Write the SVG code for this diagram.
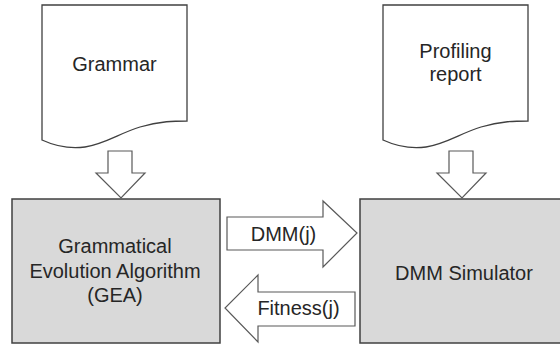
<svg xmlns="http://www.w3.org/2000/svg" width="560" height="345" viewBox="0 0 560 345">
  <defs>
    <style>
      .doc { fill: #ffffff; stroke: #404040; stroke-width: 1.3; }
      .box { fill: #d9d9d9; stroke: #404040; stroke-width: 1.5; }
      .blk { fill: #ffffff; stroke: #595959; stroke-width: 1.2; stroke-linejoin: miter; }
      .t { font-family: "Liberation Sans", Arial, sans-serif; font-size: 20px; fill: #262626; text-anchor: middle; }
    </style>
    <path id="docShape" d="M42,5 H187 V121 C175,121 160,121 140,127 C120,133 105,144 85,147 C70,149 55,146 42,140 Z"/>
    <path id="downArrow" d="M108,151 H132 V173 H145 L121,198 L96,173 H108 Z"/>
  </defs>

  <rect width="560" height="345" fill="#ffffff"/>

  <g id="grammar">
    <use href="#docShape" class="doc"/>
    <text class="t" x="114.5" y="71">Grammar</text>
  </g>

  <g id="profiling-report">
    <use href="#docShape" class="doc" transform="translate(341,0)"/>
    <text class="t" x="455.5" y="58">Profiling</text>
    <text class="t" x="455.5" y="81">report</text>
  </g>

  <g id="gea">
    <rect class="box" x="12" y="199" width="208" height="144"/>
    <text class="t" x="115" y="253">Grammatical</text>
    <text class="t" x="115" y="278">Evolution Algorithm</text>
    <text class="t" x="115" y="302">(GEA)</text>
  </g>

  <g id="dmm-simulator">
    <rect class="box" x="360" y="199" width="210" height="144"/>
    <text class="t" x="464" y="280">DMM Simulator</text>
  </g>

  <g id="connectors">
    <use href="#downArrow" class="blk"/>
    <use href="#downArrow" class="blk" transform="translate(341,0)"/>
    <path class="blk" d="M227,217 H323 V201 L357,233 L323,267 V250 H227 Z"/>
    <text class="t" x="283.5" y="241">DMM(j)</text>
    <path class="blk" d="M355,292 H258 V275 L225,308 L258,342 V326 H355 Z"/>
    <text class="t" x="298.5" y="315">Fitness(j)</text>
  </g>
</svg>
